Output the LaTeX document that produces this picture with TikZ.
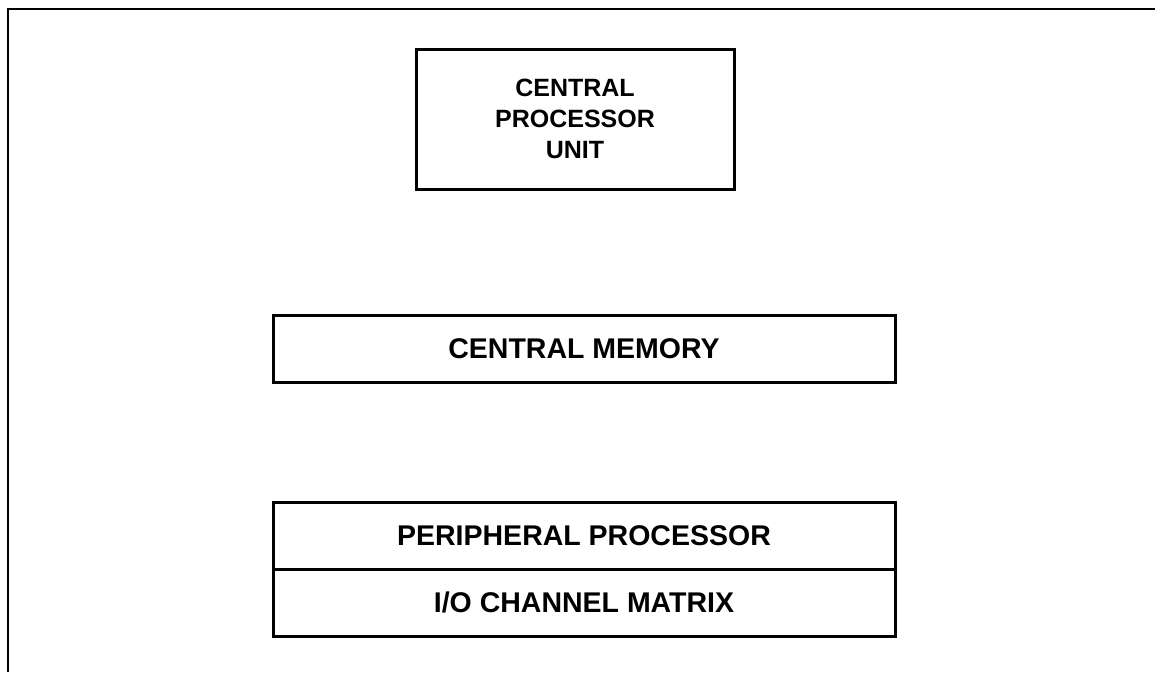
\documentclass[tikz,border=0pt]{standalone}
\usepackage{fontspec}
\setmainfont{Liberation Sans}
\usetikzlibrary{positioning}
\tikzset{
  unit/.style={draw,line width=3pt,rectangle,outer sep=0pt,inner sep=0pt,
    minimum width=622pt,minimum height=67pt,align=center,
    font=\fontsize{28.5}{31}\selectfont\bfseries},
}
\begin{document}
\begin{tikzpicture}[x=1pt,y=-1pt]
\useasboundingbox (0,0) rectangle (1155,672);
\draw[line width=2pt] (1155,9)--(8,9)--(8,672);
\node[unit,minimum width=318pt,minimum height=140pt,
  font=\fontsize{25}{31}\selectfont\bfseries] (cpu) at (575,119) {CENTRAL\\PROCESSOR\\UNIT};
\node[unit] (mem) at (584,348.5) {CENTRAL MEMORY};
\node[unit] (pp) at (584,535.5) {PERIPHERAL PROCESSOR};
\node[unit,below=0pt of pp] (io) {I/O CHANNEL MATRIX};
\end{tikzpicture}
\end{document}
